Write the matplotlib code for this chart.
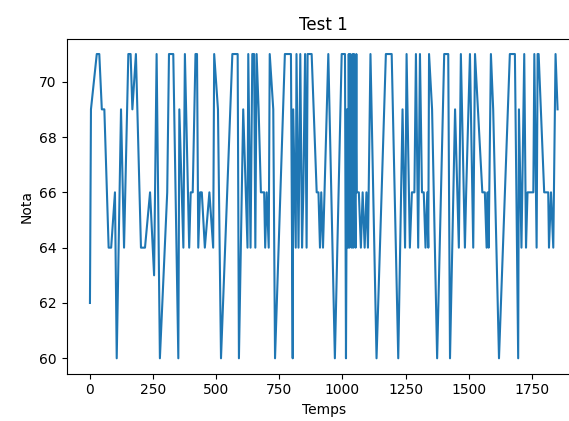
import matplotlib
matplotlib.use("Agg")
import matplotlib.pyplot as plt

# (temps, nota)
temps = [0, 4, 27, 37, 47, 57, 74, 84, 99, 106, 123, 135, 152, 161, 168, 182,
         202, 218, 238, 254,
         264, 277, 306, 313, 330, 350, 354, 370, 376, 393, 399, 407, 418, 424,
         429, 436, 443, 455, 473, 488, 492, 507, 519, 564, 585, 590,
         607, 624, 627, 636, 643, 650, 655, 660, 668, 677, 690, 694, 700, 708,
         712, 726, 733, 772, 796, 803, 805, 815, 818, 826, 833, 840, 845, 852,
         858, 862, 878,
         898, 905, 911, 916, 923, 944, 970, 997, 1010, 1014, 1018, 1022, 1025,
         1028, 1031, 1034, 1037, 1040, 1043, 1046, 1049, 1052, 1055, 1057,
         1065, 1073, 1080, 1088, 1095, 1101, 1111, 1135, 1172, 1195, 1221,
         1238, 1248,
         1254, 1267, 1275, 1285, 1291, 1300, 1307, 1315, 1322, 1329, 1336,
         1340, 1343, 1355, 1375, 1403, 1419, 1426, 1446, 1461, 1469, 1485,
         1490, 1505, 1518, 1525, 1554, 1564, 1571, 1575, 1579,
         1588, 1597, 1620, 1663, 1683, 1696, 1699, 1709, 1720, 1727, 1733,
         1756, 1760, 1769, 1773, 1777, 1799, 1815, 1818, 1826, 1835, 1844, 1852]
nota = [62, 69, 71, 71, 69, 69, 64, 64, 66, 60, 69, 64, 71, 71, 69, 71,
        64, 64, 66, 63,
        71, 60, 66, 71, 71, 60, 69, 64, 71, 64, 66, 66, 71, 71,
        64, 66, 66, 64, 66, 64, 71, 69, 60, 71, 71, 60,
        69, 64, 71, 64, 71, 71, 64, 71, 69, 66, 66, 64, 66, 64,
        71, 69, 60, 71, 71, 60, 69, 64, 71, 64, 71, 64, 66, 71,
        64, 71, 71,
        66, 66, 64, 66, 64, 71, 60, 71, 71, 60, 69, 64, 71,
        64, 71, 69, 64, 71, 64, 71, 66, 64, 71, 66,
        66, 64, 66, 64, 66, 64, 71, 60, 71, 71, 60,
        69, 64,
        71, 64, 66, 66, 71, 64, 71, 66, 66, 64, 66,
        64, 71, 69, 60, 71, 71, 60, 69, 64, 71, 64,
        66, 71, 64, 71, 66, 66, 64, 66, 64,
        71, 69, 60, 71, 71, 60, 69, 64, 71, 64, 66,
        66, 71, 64, 71, 71, 66, 66, 64, 66, 64, 71, 69]

fig = plt.figure(figsize=(5.69, 4.21), dpi=100)
# axes run past the right edge, as in the cropped reference
ax = fig.add_axes([0.117, 0.1128, 0.904, 0.795])
ax.plot(temps, nota)
ax.set_title("Test 1")
ax.set_xlabel("Temps")
ax.set_ylabel("Nota")

fig.savefig("out.png", dpi=100)
